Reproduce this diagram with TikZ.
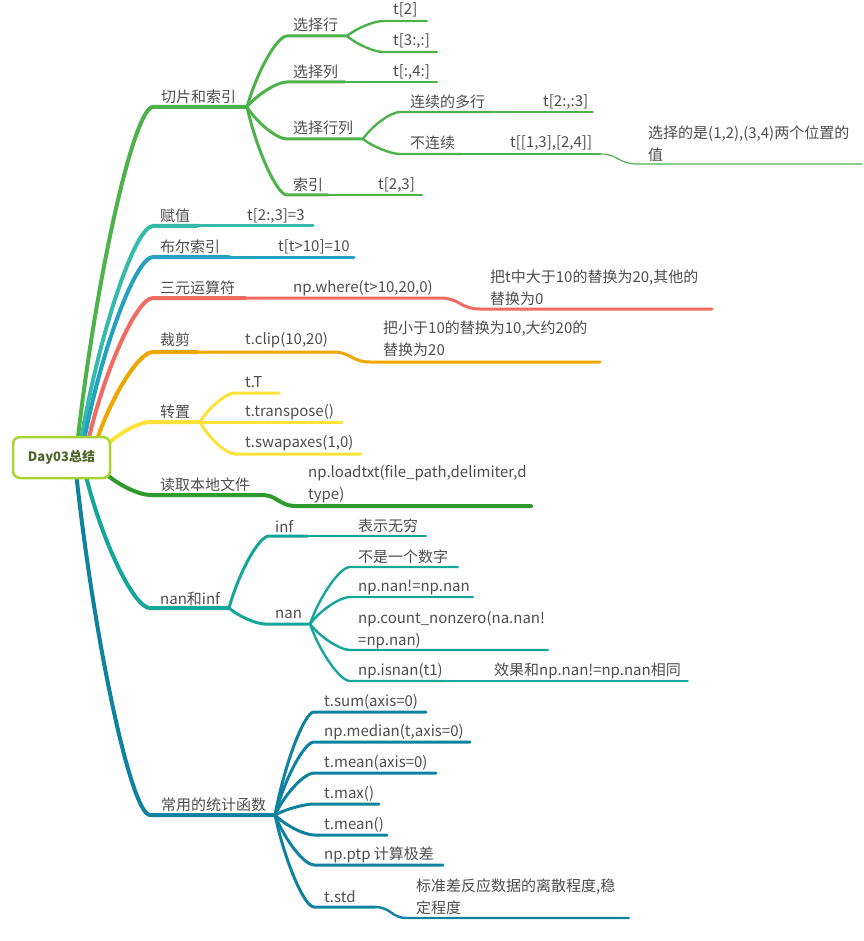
\documentclass[tikz,border=0pt]{standalone}
\usepackage{fontspec}
\setmainfont{Noto Sans CJK SC}
\usetikzlibrary{calc}
\definecolor{cgreen}{RGB}{78,178,74}
\definecolor{cteal}{RGB}{55,186,172}
\definecolor{cblue}{RGB}{36,160,193}
\definecolor{cred}{RGB}{240,107,98}
\definecolor{corange}{RGB}{240,166,0}
\definecolor{cyellow}{RGB}{253,226,58}
\definecolor{cdgreen}{RGB}{46,154,46}
\definecolor{cnan}{RGB}{20,166,152}
\definecolor{cstat}{RGB}{14,130,158}
\definecolor{rootc}{RGB}{170,210,50}
\definecolor{roottxt}{RGB}{80,100,40}
\definecolor{txt}{RGB}{78,78,78}
\tikzset{
  mc/.style={to path={let \p1=(\tikztostart), \p2=(\tikztotarget) in .. controls ({\x1+0.25*(\x2-\x1)},{\y1+0.5*(\y2-\y1)}) and ({\x2-0.25*(\x2-\x1)},{\y2}) .. (\tikztotarget)}},
  sc/.style={to path={let \p1=(\tikztostart), \p2=(\tikztotarget) in .. controls ({0.5*(\x1+\x2)},{\y1}) and ({0.5*(\x1+\x2)},{\y2}) .. (\tikztotarget)}},
  lv1/.style={line width=4pt, line cap=round, line join=round},
  lv2/.style={line width=3pt, line cap=round, line join=round},
  lv3/.style={line width=2.4pt, line cap=round, line join=round},
  lv4/.style={line width=1.8pt, line cap=round, line join=round},
  lv5/.style={line width=1.2pt, line cap=round, line join=round},
  lbl/.style={inner sep=0pt, anchor=west, text=txt, font=\fontsize{15}{22}\selectfont, align=left},
}
\begin{document}
\begin{tikzpicture}[x=1pt,y=-1pt]
\useasboundingbox (0,0) rectangle (863,941);
% ---------- coordinates ----------
\coordinate (r1) at (77,446);
\coordinate (r2) at (80,446);
\coordinate (r3) at (83,446);
\coordinate (r4) at (87,446);
\coordinate (r5) at (95,446);
\coordinate (r6) at (104,448);
\coordinate (r7) at (104,472);
\coordinate (r8) at (85,472);
\coordinate (r9) at (76,472);
% green
\coordinate (g1) at (153,107); \coordinate (g2) at (247,107);
\coordinate (g3) at (287,36); \coordinate (g4) at (347,36);
\coordinate (g5) at (383,21); \coordinate (g6) at (427,21);
\coordinate (g7) at (383,52); \coordinate (g8) at (437,52);
\coordinate (g9) at (287,82); \coordinate (g10) at (345,82); \coordinate (g11) at (437,82);
\coordinate (g12) at (287,139); \coordinate (g13) at (363,139);
\coordinate (g14) at (400,112); \coordinate (g15) at (493,112); \coordinate (g16) at (593,112);
\coordinate (g17) at (400,154); \coordinate (g18) at (462,154); \coordinate (g19) at (600,154);
\coordinate (g20) at (637,164); \coordinate (g21) at (862,164);
\coordinate (g22) at (287,195); \coordinate (g23) at (328,195); \coordinate (g24) at (422,195);
% teal
\coordinate (a1) at (153,226); \coordinate (a2) at (197,226); \coordinate (a3) at (313,226);
% blue
\coordinate (b1) at (153,257); \coordinate (b2) at (229,257); \coordinate (b3) at (354,257);
% red
\coordinate (c1) at (153,298); \coordinate (c2) at (245,298); \coordinate (c3) at (440,298);
\coordinate (c4) at (480,309); \coordinate (c5) at (712,309);
% orange
\coordinate (d1) at (153,352); \coordinate (d2) at (197,352); \coordinate (d3) at (333,352);
\coordinate (d4) at (370,362); \coordinate (d5) at (600,362);
% yellow
\coordinate (e1) at (150,422); \coordinate (e2) at (200,422);
\coordinate (e3) at (235,393); \coordinate (e4) at (279,393);
\coordinate (e5) at (342,422);
\coordinate (e6) at (235,454); \coordinate (e7) at (361,454);
% dark green
\coordinate (f1) at (150,495); \coordinate (f2) at (261,495);
\coordinate (f3) at (296,506); \coordinate (f4) at (531,506);
% nan
\coordinate (n1) at (150,608); \coordinate (n2) at (229,608);
\coordinate (n3) at (269,536); \coordinate (n4) at (308,536); \coordinate (n5) at (426,536);
\coordinate (n6) at (265,624); \coordinate (n7) at (310,624);
\coordinate (n8) at (350,567); \coordinate (n9) at (458,567);
\coordinate (n10) at (350,597); \coordinate (n11) at (473,597);
\coordinate (n12) at (350,650); \coordinate (n13) at (548,650);
\coordinate (n14) at (350,681); \coordinate (n15) at (444,681); \coordinate (n16) at (688,681);
% stats
\coordinate (s1) at (150,815); \coordinate (s2) at (275,815);
\coordinate (s3) at (314,712); \coordinate (s4) at (426,712);
\coordinate (s5) at (314,742); \coordinate (s6) at (470,742);
\coordinate (s7) at (314,773); \coordinate (s8) at (436,773);
\coordinate (s9) at (314,804); \coordinate (s10) at (379,804);
\coordinate (s11) at (314,835); \coordinate (s12) at (387,835);
\coordinate (s13) at (314,865); \coordinate (s14) at (443,865);
\coordinate (s15) at (314,907); \coordinate (s16) at (375,907);
\coordinate (s17) at (407,918); \coordinate (s18) at (629,918);
% ---------- connectors ----------
\draw[lv1,cstat] (r9) to[mc] (s1) -- (s2);
\draw[lv1,cnan] (r8) to[mc] (n1) -- (n2);
\draw[lv1,cgreen] (r1) to[mc] (g1) -- (g2);
\draw[lv1,cteal] (r2) to[mc] (a1) -- (a2);
\draw[lv2,cteal] (a2) -- (a3);
\draw[lv1,cblue] (r3) to[mc] (b1) -- (b2);
\draw[lv2,cblue] (b2) -- (b3);
\draw[lv1,cred] (r4) to[mc] (c1) -- (c2);
\draw[lv2,cred] (c2) -- (c3) to[sc] (c4) -- (c5);
\draw[lv1,corange] (r5) to[mc] (d1) -- (d2);
\draw[lv2,corange] (d2) -- (d3) to[sc] (d4) -- (d5);
\draw[lv1,cyellow] (r6) to[mc] (e1) -- (e2);
\draw[lv2,cyellow] (e2) to[mc] (e3) -- (e4);
\draw[lv2,cyellow] (e2) -- (e5);
\draw[lv2,cyellow] (e2) to[mc] (e6) -- (e7);
\draw[lv1,cdgreen] (r7) to[mc] (f1) -- (f2) to[sc] (f3) -- (f4);
% green details
\draw[lv2,cgreen] (g2) to[mc] (g3) -- (g4);
\draw[lv3,cgreen] (g4) to[mc] (g5) -- (g6);
\draw[lv3,cgreen] (g4) to[mc] (g7) -- (g8);
\draw[lv2,cgreen] (g2) to[mc] (g9) -- (g10);
\draw[lv3,cgreen] (g10) -- (g11);
\draw[lv2,cgreen] (g2) to[mc] (g12) -- (g13);
\draw[lv3,cgreen] (g13) to[mc] (g14) -- (g15);
\draw[lv4,cgreen] (g15) -- (g16);
\draw[lv3,cgreen] (g13) to[mc] (g17) -- (g18);
\draw[lv4,cgreen] (g18) -- (g19);
\draw[lv5,cgreen] (g19) to[sc] (g20) -- (g21);
\draw[lv2,cgreen] (g2) to[mc] (g22) -- (g23);
\draw[lv3,cgreen] (g23) -- (g24);
% nan details
\draw[lv2,cnan] (n2) to[mc] (n3) -- (n4);
\draw[lv3,cnan] (n4) -- (n5);
\draw[lv2,cnan] (n2) to[mc] (n6) -- (n7);
\draw[lv3,cnan] (n7) to[mc] (n8) -- (n9);
\draw[lv3,cnan] (n7) to[mc] (n10) -- (n11);
\draw[lv3,cnan] (n7) to[mc] (n12) -- (n13);
\draw[lv3,cnan] (n7) to[mc] (n14) -- (n15);
\draw[lv4,cnan] (n15) -- (n16);
% stats details
\draw[lv2,cstat] (s2) to[mc] (s3) -- (s4);
\draw[lv2,cstat] (s2) to[mc] (s5) -- (s6);
\draw[lv2,cstat] (s2) to[mc] (s7) -- (s8);
\draw[lv2,cstat] (s2) to[mc] (s9) -- (s10);
\draw[lv2,cstat] (s2) to[mc] (s11) -- (s12);
\draw[lv2,cstat] (s2) to[mc] (s13) -- (s14);
\draw[lv2,cstat] (s2) to[mc] (s15) -- (s16);
\draw[lv3,cstat] (s16) to[sc] (s17) -- (s18);
% ---------- root ----------
\node[draw=rootc, line width=2.5pt, rounded corners=7pt, fill=white, minimum width=97pt, minimum height=41pt, inner sep=0pt, text=roottxt, font=\fontsize{13}{15}\selectfont\bfseries] (root) at (61.5,457.5) {Day03总结};
% ---------- labels ----------
\node[lbl] (t1) at (161,97) {切片和索引};
\node[lbl] (t2) at (293,25) {选择行};
\node[lbl] (t3) at (393,10) {t[2]};
\node[lbl] (t4) at (393,41) {t[3:,:]};
\node[lbl] (t5) at (293,72) {选择列};
\node[lbl] (t6) at (393,72) {t[:,4:]};
\node[lbl] (t7) at (293,128) {选择行列};
\node[lbl] (t8) at (410,102) {连续的多行};
\node[lbl] (t9) at (543,102) {t[2:,:3]};
\node[lbl] (t10) at (410,143) {不连续};
\node[lbl] (t11) at (510,143) {t[[1,3],[2,4]]};
\node[lbl] (t12) at (648,144) {选择的是(1,2),(3,4)两个位置的\\值};
\node[lbl] (t13) at (293,185) {索引};
\node[lbl] (t14) at (378,185) {t[2,3]};
\node[lbl] (t15) at (160,216) {赋值};
\node[lbl] (t16) at (247,216) {t[2:,3]=3};
\node[lbl] (t17) at (160,247) {布尔索引};
\node[lbl] (t18) at (278,247) {t[t>10]=10};
\node[lbl] (t19) at (160,288) {三元运算符};
\node[lbl] (t20) at (293,288) {np.where(t>10,20,0)};
\node[lbl] (t21) at (490,288) {把t中大于10的替换为20,其他的\\替换为0};
\node[lbl] (t22) at (160,340) {裁剪};
\node[lbl] (t23) at (245,340) {t.clip(10,20)};
\node[lbl] (t24) at (383,339) {把小于10的替换为10,大约20的\\替换为20};
\node[lbl] (t25) at (160,412) {转置};
\node[lbl] (t26) at (245,382) {t.T};
\node[lbl] (t27) at (245,412) {t.transpose()};
\node[lbl] (t28) at (245,443) {t.swapaxes(1,0)};
\node[lbl] (t29) at (160,485) {读取本地文件};
\node[lbl] (t30) at (308,484) {np.loadtxt(file\_path,delimiter,d\\type)};
\node[lbl] (t31) at (160,599) {nan和inf};
\node[lbl] (t32) at (275,526) {inf};
\node[lbl] (t33) at (358,526) {表示无穷};
\node[lbl] (t34) at (275,614) {nan};
\node[lbl] (t35) at (358,557) {不是一个数字};
\node[lbl] (t36) at (358,588) {np.nan!=np.nan};
\node[lbl] (t37) at (358,630) {np.count\_nonzero(na.nan!\\=np.nan)};
\node[lbl] (t38) at (358,671) {np.isnan(t1)};
\node[lbl] (t39) at (494,671) {效果和np.nan!=np.nan相同};
\node[lbl] (t40) at (161,805) {常用的统计函数};
\node[lbl] (t41) at (324,702) {t.sum(axis=0)};
\node[lbl] (t42) at (324,732) {np.median(t,axis=0)};
\node[lbl] (t43) at (324,763) {t.mean(axis=0)};
\node[lbl] (t44) at (324,794) {t.max()};
\node[lbl] (t45) at (324,825) {t.mean()};
\node[lbl] (t46) at (324,855) {np.ptp 计算极差};
\node[lbl] (t47) at (324,897) {t.std};
\node[lbl] (t48) at (416,897) {标准差反应数据的离散程度,稳\\定程度};
\end{tikzpicture}
\end{document}
